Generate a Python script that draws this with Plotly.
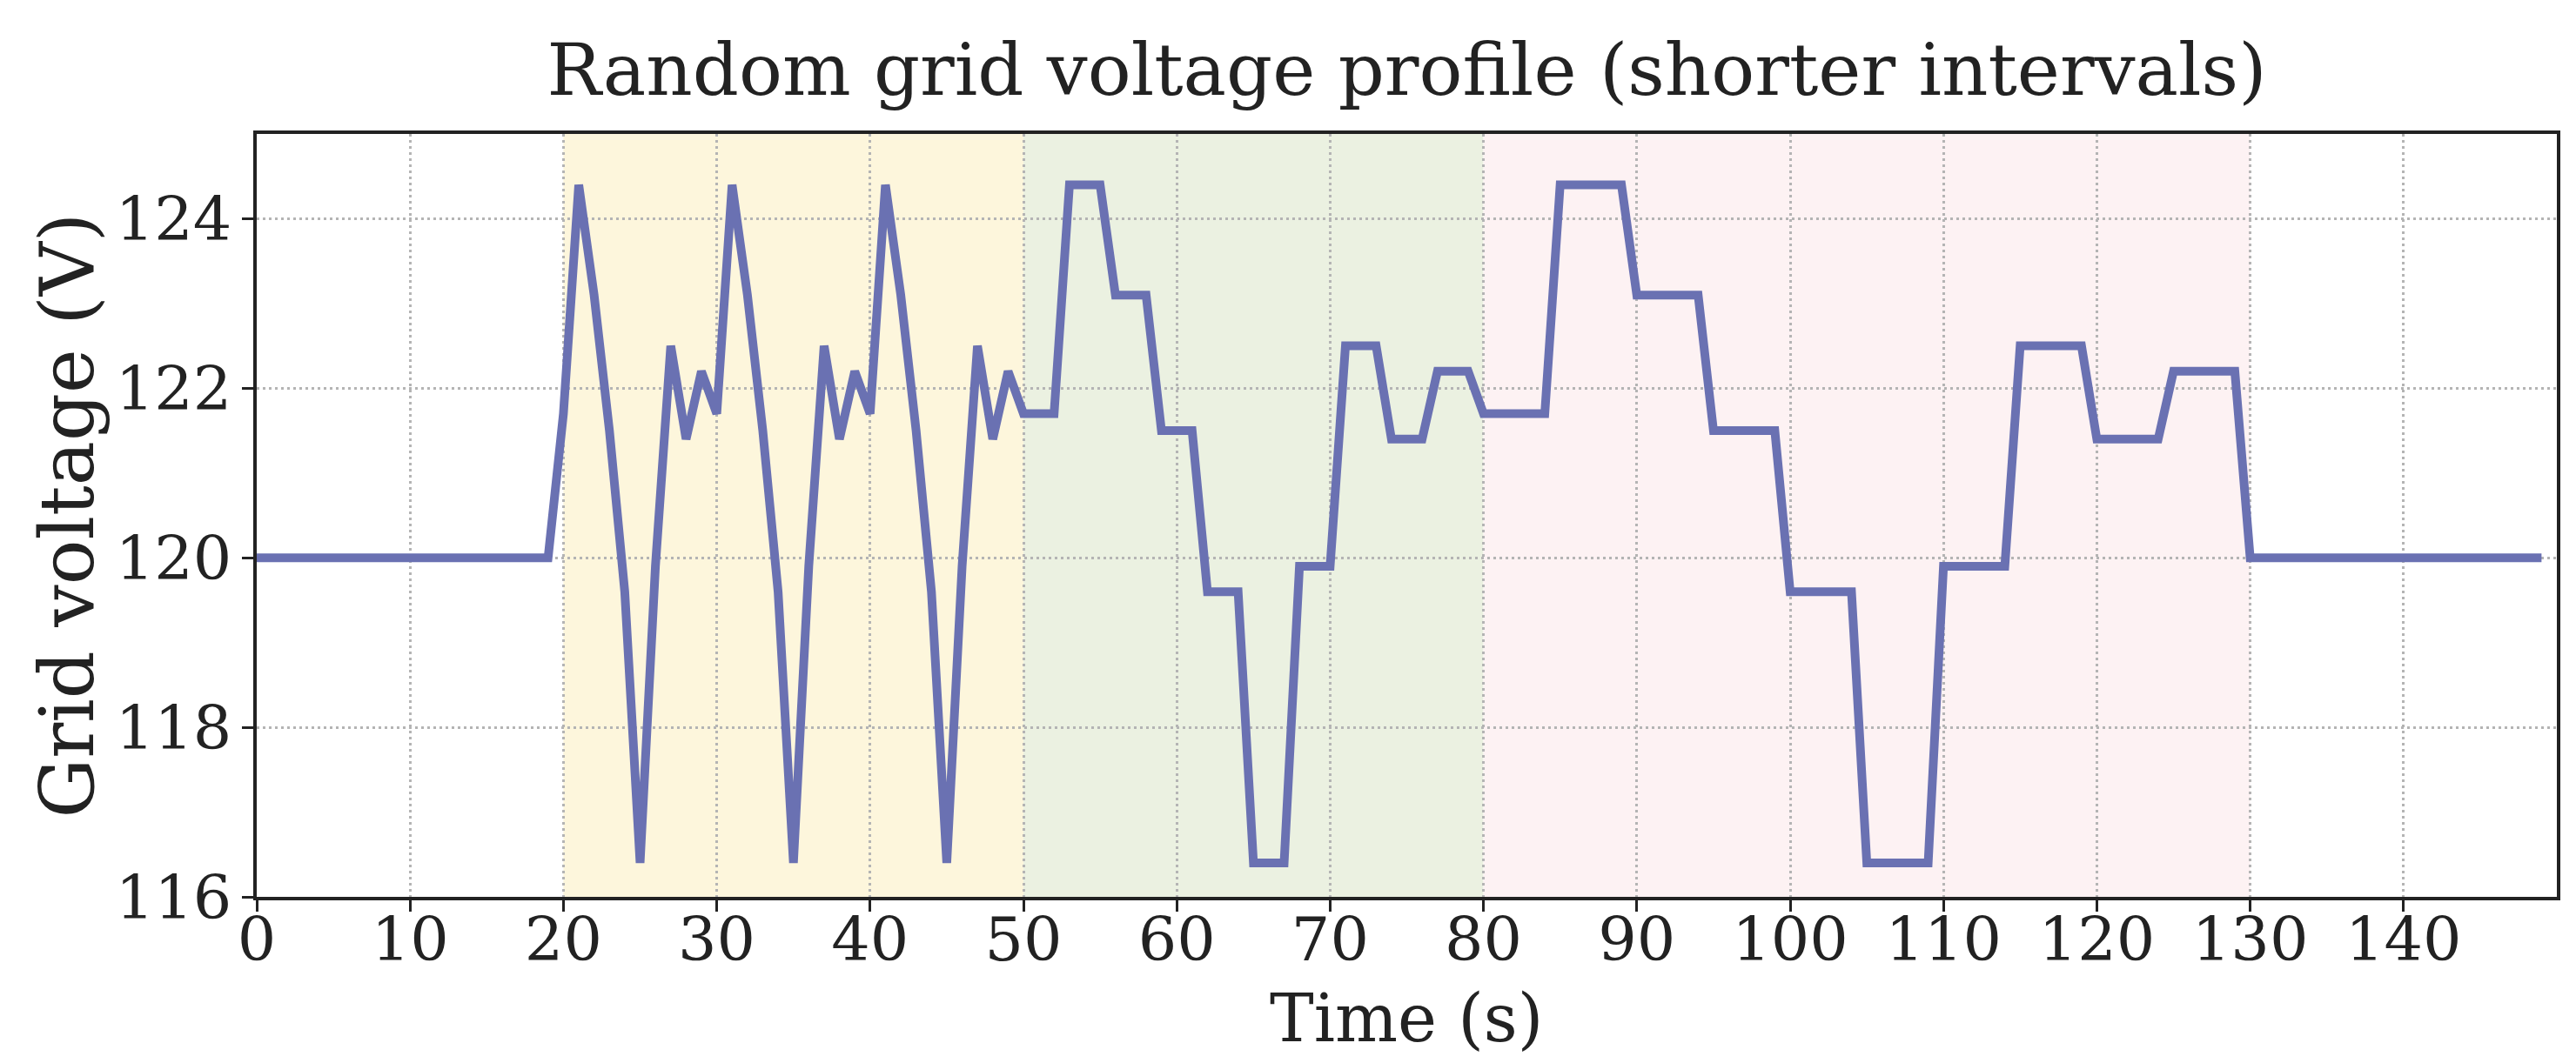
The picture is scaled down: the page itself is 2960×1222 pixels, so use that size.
import plotly.graph_objects as go

# Vertices of the voltage profile (time in s, voltage in V)
time_s = [0, 19, 20, 21, 22, 23, 24, 25, 26, 27, 28, 29, 30, 31, 32, 33, 34, 35, 36, 37,
          38, 39, 40, 41, 42, 43, 44, 45, 46, 47, 48, 49, 50, 52, 53, 55, 56, 58, 59, 61,
          62, 64, 65, 67, 68, 70, 71, 73, 74, 76, 77, 79, 80, 84, 85, 89, 90, 94, 95, 99,
          100, 104, 105, 109, 110, 114, 115, 119, 120, 124, 125, 129, 130, 149]
voltage_v = [120.0, 120.0, 121.7, 124.4, 123.1, 121.5, 119.6, 116.4, 119.9, 122.5,
             121.4, 122.2, 121.7, 124.4, 123.1, 121.5, 119.6, 116.4, 119.9, 122.5,
             121.4, 122.2, 121.7, 124.4, 123.1, 121.5, 119.6, 116.4, 119.9, 122.5,
             121.4, 122.2, 121.7, 121.7, 124.4, 124.4, 123.1, 123.1, 121.5, 121.5,
             119.6, 119.6, 116.4, 116.4, 119.9, 119.9, 122.5, 122.5, 121.4, 121.4,
             122.2, 122.2, 121.7, 121.7, 124.4, 124.4, 123.1, 123.1, 121.5, 121.5,
             119.6, 119.6, 116.4, 116.4, 119.9, 119.9, 122.5, 122.5, 121.4, 121.4,
             122.2, 122.2, 120.0, 120.0]

# Shaded interval bands
band_starts = [20, 50, 80]
band_ends = [50, 80, 130]
band_colors = ["#FDF6DC", "#EBF1E1", "#FDF2F3"]

x_ticks = [0, 10, 20, 30, 40, 50, 60, 70, 80, 90, 100, 110, 120, 130, 140]
y_ticks = [116, 118, 120, 122, 124]

FONT = "DejaVu Serif"
INK = "#222222"

fig = go.Figure()
fig.add_trace(go.Scatter(
    x=time_s, y=voltage_v, mode="lines",
    line=dict(color="#6A71B2", width=10),
    showlegend=False,
))

for x0, x1, c in zip(band_starts, band_ends, band_colors):
    fig.add_shape(type="rect", xref="x", yref="paper", x0=x0, x1=x1, y0=0, y1=1,
                  fillcolor=c, line=dict(width=0), layer="below")

axis_common = dict(
    showline=True, linecolor=INK, linewidth=3.5, mirror=True,
    ticks="outside", ticklen=13, tickwidth=3, tickcolor=INK,
    showgrid=True, gridcolor="#B4B4B4", gridwidth=3, griddash="3px,4px",
    zeroline=False, automargin=False,
    tickfont=dict(family=FONT, size=70, color=INK),
)

fig.update_xaxes(range=[0, 150], tickvals=x_ticks, ticklabelstandoff=-28, **axis_common)
fig.update_yaxes(range=[116, 125], tickvals=y_ticks, ticklabelstandoff=-2, **axis_common)

fig.update_layout(
    width=2960, height=1222,
    margin=dict(l=287, r=30, t=146, b=199),
    plot_bgcolor="white", paper_bgcolor="white",
    title=dict(text="Random grid voltage profile (shorter intervals)",
               font=dict(family=FONT, size=83, color=INK),
               x=0.5, xref="paper", xanchor="center",
               y=1 - 72 / 1222, yref="container", yanchor="middle"),
    annotations=[
        dict(text="Time (s)", xref="paper", yref="paper", x=0.5, y=(1023 - 1162) / 877,
             xanchor="center", yanchor="middle", showarrow=False,
             font=dict(family=FONT, size=76, color=INK)),
        dict(text="Grid voltage (V)", xref="paper", yref="paper",
             x=(68 - 287) / 2643, y=0.5, textangle=-90,
             xanchor="center", yanchor="middle", showarrow=False,
             font=dict(family=FONT, size=86, color=INK)),
    ],
)

fig.write_html("out.html")
